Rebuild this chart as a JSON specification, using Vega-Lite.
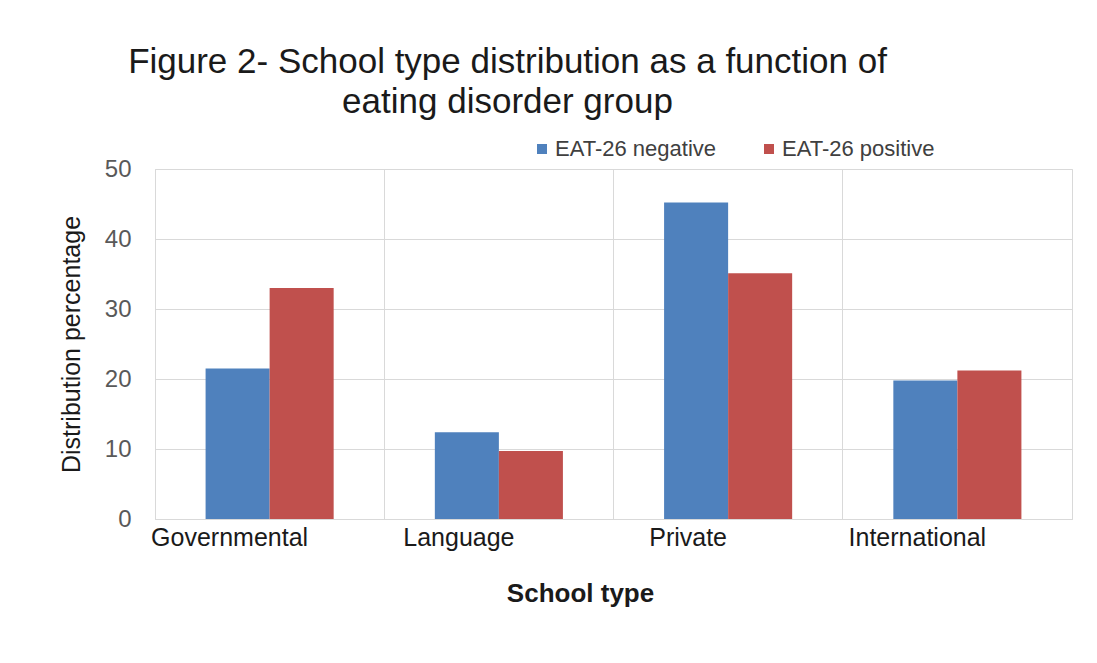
{
  "$schema": "https://vega.github.io/schema/vega-lite/v6.json",
  "autosize": "none",
  "width": 917,
  "height": 350,
  "padding": {"left": 155, "top": 169, "right": 25, "bottom": 144},
  "background": "white",
  "title": {
    "text": ["Figure 2- School type distribution as a function of", "eating disorder group"],
    "font": "Liberation Sans, Arial",
    "fontSize": 35,
    "fontWeight": "normal",
    "color": "#1a1a1a",
    "anchor": "middle",
    "frame": "group",
    "dx": -106,
    "lineHeight": 40,
    "offset": 18
  },
  "data": {
    "values": [
      {"school": "Governmental", "group": "EAT-26 negative", "pct": 21.5},
      {"school": "Governmental", "group": "EAT-26 positive", "pct": 33.0},
      {"school": "Language", "group": "EAT-26 negative", "pct": 12.4},
      {"school": "Language", "group": "EAT-26 positive", "pct": 9.7},
      {"school": "Private", "group": "EAT-26 negative", "pct": 45.2},
      {"school": "Private", "group": "EAT-26 positive", "pct": 35.1},
      {"school": "International", "group": "EAT-26 negative", "pct": 19.8},
      {"school": "International", "group": "EAT-26 positive", "pct": 21.2}
    ]
  },
  "mark": {"type": "bar"},
  "encoding": {
    "x": {
      "field": "school",
      "type": "nominal",
      "sort": ["Governmental", "Language", "Private", "International"],
      "scale": {"paddingInner": 0, "paddingOuter": 0},
      "axis": {
        "title": "School type",
        "titleFont": "Liberation Sans, Arial",
        "titleFontSize": 26,
        "titleFontWeight": "bold",
        "titleColor": "#1a1a1a",
        "titleX": 425,
        "titlePadding": 30,
        "labelAngle": 0,
        "labelFont": "Liberation Sans, Arial",
        "labelFontSize": 25,
        "labelColor": "#1a1a1a",
        "labelOffset": -40,
        "labelPadding": 6,
        "ticks": false,
        "domain": true,
        "domainColor": "#d9d9d9",
        "grid": true,
        "gridColor": "#d9d9d9",
        "bandPosition": 0
      }
    },
    "xOffset": {
      "field": "group",
      "type": "nominal",
      "scale": {"paddingInner": 0, "paddingOuter": 0.79}
    },
    "y": {
      "field": "pct",
      "type": "quantitative",
      "scale": {"domain": [0, 50], "nice": false},
      "axis": {
        "title": "Distribution percentage",
        "titleFont": "Liberation Sans, Arial",
        "titleFontSize": 25,
        "titleFontWeight": "normal",
        "titleColor": "#1a1a1a",
        "titlePadding": 20,
        "values": [0, 10, 20, 30, 40, 50],
        "labelFont": "Liberation Sans, Arial",
        "labelFontSize": 24,
        "labelColor": "#595959",
        "labelPadding": 24,
        "ticks": false,
        "domain": false,
        "grid": true,
        "gridColor": "#d9d9d9"
      }
    },
    "color": {
      "field": "group",
      "type": "nominal",
      "scale": {"domain": ["EAT-26 negative", "EAT-26 positive"], "range": ["#4f81bd", "#c0504d"]},
      "legend": {
        "title": null,
        "orient": "none",
        "direction": "horizontal",
        "legendX": 376,
        "legendY": -31,
        "symbolType": "square",
        "symbolSize": 100,
        "symbolStrokeWidth": 0,
        "labelFont": "Liberation Sans, Arial",
        "labelFontSize": 22,
        "labelColor": "#404040",
        "labelLimit": 300,
        "labelOffset": 2,
        "columnPadding": 41
      }
    }
  },
  "config": {
    "view": {"stroke": "#d9d9d9"}
  }
}
